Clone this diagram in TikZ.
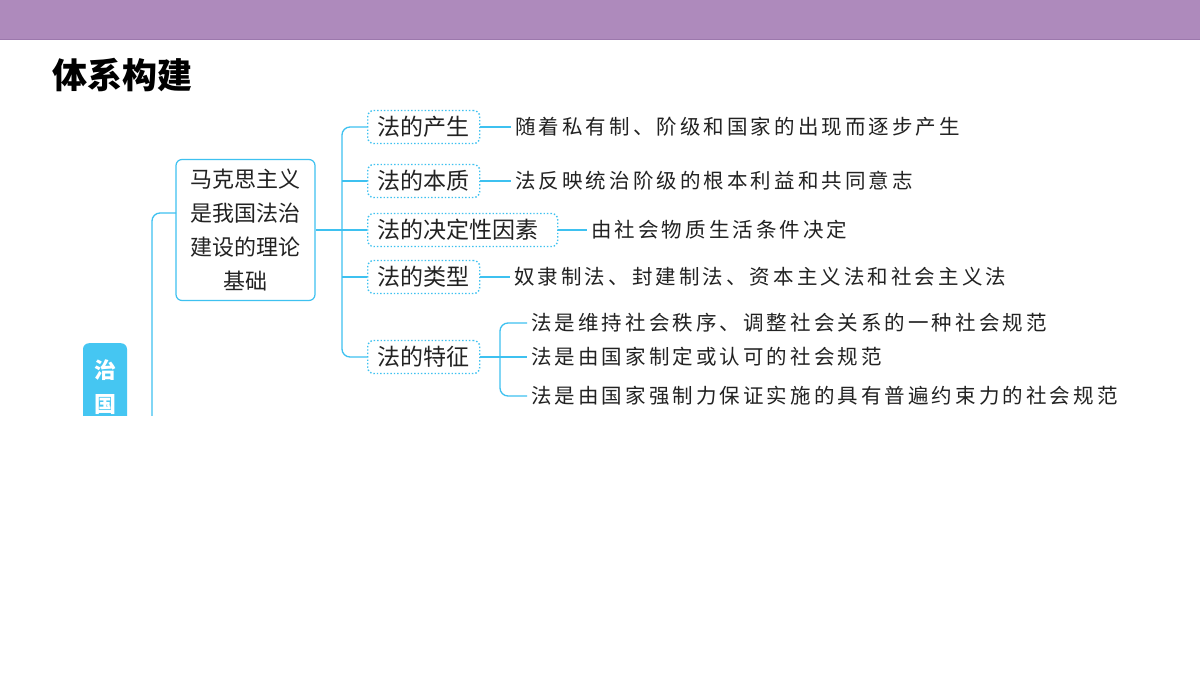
\documentclass[tikz,border=0pt]{standalone}
\usepackage{fontspec}
\newfontfamily\cjk{Noto Sans CJK SC}
\newfontfamily\cjkleaf[LetterSpace=15]{Noto Sans CJK SC}
\definecolor{banner}{HTML}{AE8ABC}
\definecolor{bannerline}{HTML}{9C78AC}
\definecolor{sky}{HTML}{3EC1F0}
\definecolor{skyfill}{HTML}{45C6F2}
\definecolor{ink}{HTML}{222222}
\tikzset{
  conn/.style={draw=sky, line width=1.3pt},
  bigbox/.style={draw=sky, line width=1.2pt, rounded corners=6pt, minimum width=139pt, minimum height=141pt,
    align=center, inner sep=0pt, font=\cjk\fontsize{22}{34}\selectfont, text=ink},
  catbox/.style={draw=sky, dotted, line width=1.4pt, rounded corners=6pt, minimum height=33pt,
    inner xsep=10pt, inner ysep=0pt, anchor=west, font=\cjk\fontsize{23}{26}\selectfont, text=ink},
  leaf/.style={anchor=west, inner xsep=4pt, inner ysep=0pt, font=\cjkleaf\fontsize{20.5}{22}\selectfont, text=ink},
  zgbox/.style={fill=skyfill, rounded corners=6pt, minimum width=44pt, minimum height=160pt, inner sep=0pt},
  zgtext/.style={text=white, font=\cjk\bfseries\fontsize{22}{24}\selectfont, inner sep=0pt},
}
\begin{document}
\begin{tikzpicture}[x=1pt,y=-1pt]
\useasboundingbox (0,0) rectangle (1200,675);
\fill[white] (0,0) rectangle (1200,675);
\fill[banner] (0,0) rectangle (1200,39);
\draw[bannerline, line width=1pt] (0,39) -- (1200,39);
\node[anchor=west, inner sep=0pt, font=\cjk\bfseries\fontsize{35}{38}\selectfont] (title) at (52,75) {体系构建};
\begin{scope}
\clip (0,0) rectangle (1200,415);
% left root
\node[zgbox, anchor=north] (zg) at (105,343) {};
\node[zgtext] (zg1) at (105,370) {治};
\node[zgtext] (zg2) at (105,405) {国};
\coordinate (lx) at (152,700);
% main box
\node[bigbox] (big) at (245.5,230) {马克思主义\\是我国法治\\建设的理论\\基础};
\coordinate (bigin) at (176,213);
\draw[conn, rounded corners=8pt] (bigin) -| (lx);
% categories
\node[catbox] (p1) at (367,127) {法的产生};
\node[catbox] (p2) at (367,181) {法的本质};
\node[catbox] (p3) at (367,230) {法的决定性因素\kern9pt};
\node[catbox] (p4) at (367,277) {法的类型};
\node[catbox] (p5) at (367,357) {法的特征};
\coordinate (bx) at (342,0);
\draw[conn] (big.east) -- (bx |- big.east);
\draw[conn, rounded corners=8pt] (p1.west) -| (bx |- p5.west) -- (p5.west);
\draw[conn] (bx |- p2.west) -- (p2.west);
\draw[conn] (bx |- p3.west) -- (p3.west);
\draw[conn] (bx |- p4.west) -- (p4.west);
% leaves
\node[leaf] (l1) at (511,127) {随着私有制、阶级和国家的出现而逐步产生};
\node[leaf] (l2) at (511,181) {法反映统治阶级的根本利益和共同意志};
\node[leaf] (l3) at (587,230) {由社会物质生活条件决定};
\node[leaf] (l4) at (510,277) {奴隶制法、封建制法、资本主义法和社会主义法};
\draw[conn] (p1.east) -- (l1.west);
\draw[conn] (p2.east) -- (l2.west);
\draw[conn] (p3.east) -- (l3.west);
\draw[conn] (p4.east) -- (l4.west);
% features
\node[leaf] (f1) at (527,323) {法是维持社会秩序、调整社会关系的一种社会规范};
\node[leaf] (f2) at (527,357) {法是由国家制定或认可的社会规范};
\node[leaf] (f3) at (527,396) {法是由国家强制力保证实施的具有普遍约束力的社会规范};
\coordinate (sx) at (500,0);
\draw[conn] (p5.east) -- (sx |- p5.east);
\draw[conn, rounded corners=8pt] (f1.west) -| (sx |- f3.west) -- (f3.west);
\draw[conn] (sx |- f2.west) -- (f2.west);
\end{scope}
\end{tikzpicture}
\end{document}
